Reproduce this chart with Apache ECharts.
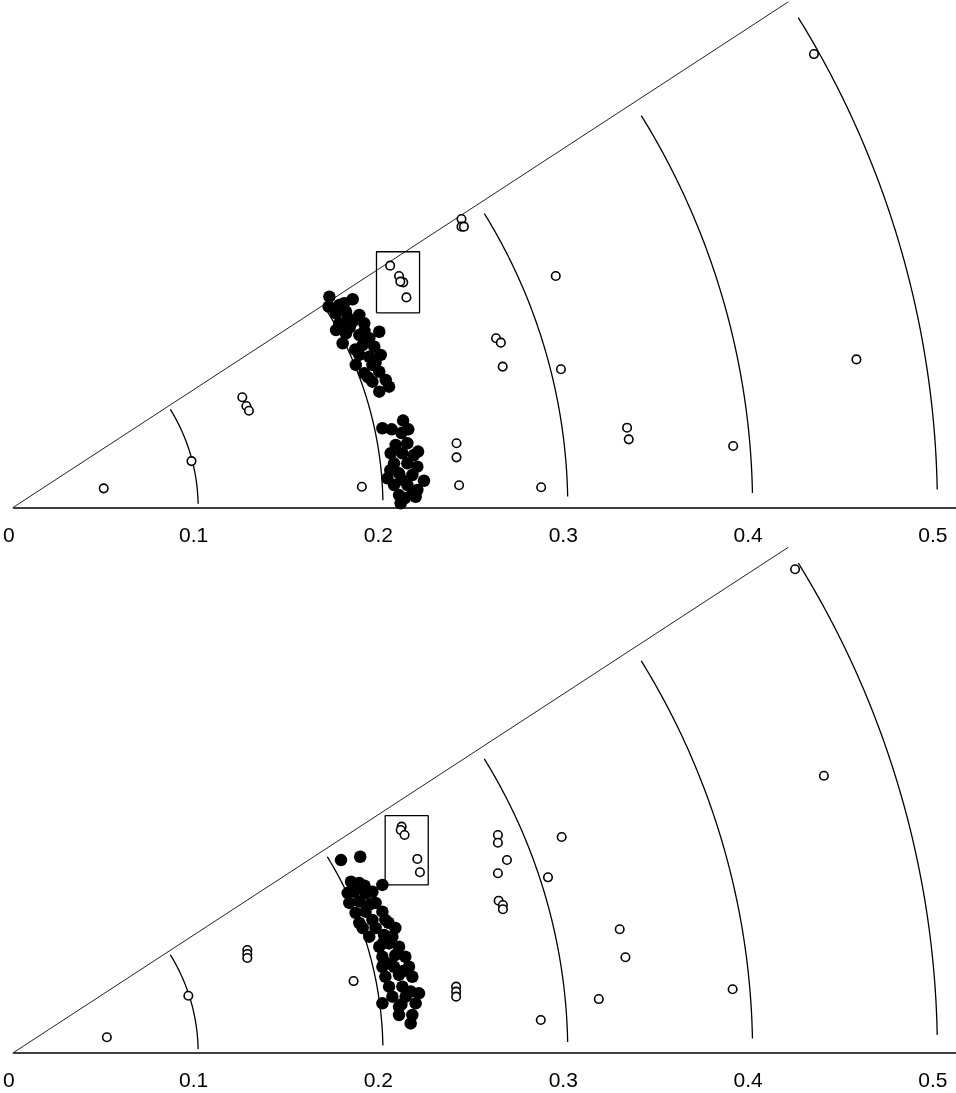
<!DOCTYPE html>
<html>
<head>
<meta charset="utf-8">
<script src="https://cdn.jsdelivr.net/npm/echarts@6/dist/echarts.min.js"></script>
<style>
  html, body { margin: 0; padding: 0; background: #fff; }
  #chart { width: 956px; height: 1093px; }
</style>
</head>
<body>
<div id="chart"></div>
<script>
// ---------- data ----------
const xTickLabels = ['0', '0.1', '0.2', '0.3', '0.4', '0.5'];
const stdArcs = [0.1, 0.2, 0.3, 0.4, 0.5];
const boundaryRadius = 0.5;
const boundaryAngleDeg = 33.0;   // outer ray of the diagram
const arcAngleStartDeg = 1.1;    // arcs start just above the x axis
const arcAngleEndDeg = 32.0;     // arcs stop just below the outer ray

// top panel: open markers [x, y]
const topOpen = [
  [0.0489, 0.0102], [0.0964, 0.0249], [0.1239, 0.0593], [0.1261, 0.0546], [0.1275, 0.0520],
  [0.1886, 0.0111], [0.2398, 0.0345], [0.2398, 0.0269], [0.2412, 0.0119],
  [0.2425, 0.1553], [0.2425, 0.1512], [0.2438, 0.1512],
  [0.2935, 0.1246], [0.2612, 0.0911], [0.2638, 0.0887], [0.2648, 0.0758], [0.2963, 0.0744],
  [0.2856, 0.0108], [0.3321, 0.0429], [0.3330, 0.0366], [0.3895, 0.0330], [0.4562, 0.0797],
  [0.4332, 0.2442],
  [0.2039, 0.1302], [0.2087, 0.1246], [0.2110, 0.1212], [0.2094, 0.1216], [0.2127, 0.1131]
];
// top panel: filled markers [x, y]
const topFilled = [
  [0.1710, 0.1135], [0.1706, 0.1081], [0.1836, 0.1121], [0.1764, 0.1090], [0.1746, 0.1045],
  [0.1800, 0.1054], [0.1872, 0.1036], [0.1764, 0.0991], [0.1836, 0.1000], [0.1899, 0.0991],
  [0.1980, 0.0946], [0.1746, 0.0955], [0.1800, 0.0938], [0.1872, 0.0928], [0.1926, 0.0911],
  [0.1782, 0.0884], [0.1890, 0.0874], [0.1953, 0.0865], [0.1872, 0.0821], [0.1926, 0.0811],
  [0.1988, 0.0821], [0.1853, 0.0767], [0.1943, 0.0767], [0.1899, 0.0722], [0.1980, 0.0731],
  [0.1943, 0.0677], [0.2015, 0.0686], [0.1980, 0.0623], [0.2033, 0.0650],
  [0.1790, 0.1100], [0.1820, 0.0970], [0.1900, 0.0950], [0.1850, 0.0850], [0.1960, 0.0780],
  [0.1920, 0.0700], [0.1810, 0.1020],
  [0.1997, 0.0426], [0.2047, 0.0420], [0.2109, 0.0467], [0.2137, 0.0420], [0.2069, 0.0336],
  [0.2132, 0.0345], [0.2042, 0.0291], [0.2105, 0.0291], [0.2168, 0.0282], [0.2060, 0.0237],
  [0.2132, 0.0237], [0.2186, 0.0219], [0.2024, 0.0156], [0.2087, 0.0183], [0.2159, 0.0174],
  [0.2222, 0.0143], [0.2060, 0.0120], [0.2132, 0.0120], [0.2186, 0.0093], [0.2087, 0.0066],
  [0.2159, 0.0075], [0.2096, 0.0022], [0.2177, 0.0057],
  [0.2100, 0.0400], [0.2190, 0.0300], [0.2040, 0.0200], [0.2120, 0.0050], [0.2100, 0.0150]
];
// top panel: box [xMin, yMin, xMax, yMax]
const topBox = [0.1965, 0.1048, 0.2198, 0.1377];

// bottom panel: open markers [x, y]
const bottomOpen = [
  [0.0506, 0.0083], [0.0947, 0.0307], [0.1266, 0.0553], [0.1266, 0.0532], [0.1266, 0.0510],
  [0.1841, 0.0386], [0.2396, 0.0356], [0.2396, 0.0329], [0.2396, 0.0302], [0.2854, 0.0176],
  [0.3168, 0.0289], [0.3281, 0.0665], [0.3312, 0.0514], [0.3892, 0.0342], [0.4386, 0.1492],
  [0.4230, 0.2605], [0.2967, 0.1162], [0.2893, 0.0945],
  [0.2622, 0.1173], [0.2622, 0.1131], [0.2671, 0.1038], [0.2622, 0.0967],
  [0.2626, 0.0819], [0.2649, 0.0796], [0.2649, 0.0773],
  [0.2101, 0.1218], [0.2096, 0.1200], [0.2117, 0.1173], [0.2186, 0.1044], [0.2200, 0.0972]
];
// bottom panel: filled markers [x, y]
const bottomFilled = [
  [0.1773, 0.1038], [0.1877, 0.1056], [0.1997, 0.0904],
  [0.1827, 0.0921], [0.1872, 0.0914], [0.1809, 0.0860], [0.1845, 0.0867], [0.1907, 0.0859],
  [0.1943, 0.0867], [0.1818, 0.0807], [0.1872, 0.0814], [0.1960, 0.0807], [0.1852, 0.0753],
  [0.1906, 0.0760], [0.1997, 0.0760], [0.1872, 0.0699], [0.1943, 0.0715], [0.2013, 0.0715],
  [0.1890, 0.0672], [0.1960, 0.0672], [0.2067, 0.0672], [0.1926, 0.0625], [0.2006, 0.0634],
  [0.2051, 0.0625], [0.1980, 0.0571], [0.2033, 0.0589], [0.2087, 0.0571], [0.1997, 0.0517],
  [0.2067, 0.0526], [0.2121, 0.0517], [0.1997, 0.0463], [0.2060, 0.0463], [0.2141, 0.0463],
  [0.2013, 0.0409], [0.2087, 0.0419], [0.2159, 0.0409], [0.2033, 0.0356], [0.2105, 0.0356],
  [0.2195, 0.0320], [0.2051, 0.0302], [0.2123, 0.0302], [0.2177, 0.0266], [0.1997, 0.0266],
  [0.2087, 0.0248], [0.2087, 0.0203], [0.2159, 0.0203], [0.2150, 0.0158],
  [0.1930, 0.0800], [0.2000, 0.0590], [0.2040, 0.0480], [0.2110, 0.0440], [0.2150, 0.0330],
  [0.2100, 0.0260], [0.2030, 0.0700], [0.1900, 0.0900]
];
// bottom panel: box [xMin, yMin, xMax, yMax]
const bottomBox = [0.2012, 0.0904, 0.2245, 0.1277];

// ---------- geometry helpers (gridlines only) ----------
const D2R = Math.PI / 180;
function arcPoints(r) {
  const pts = [];
  for (let a = arcAngleStartDeg; a <= arcAngleEndDeg + 1e-9; a += 0.25) {
    pts.push([r * Math.cos(a * D2R), r * Math.sin(a * D2R)]);
  }
  return pts;
}
function boxPoints(b) {
  return [[b[0], b[1]], [b[2], b[1]], [b[2], b[3]], [b[0], b[3]], [b[0], b[1]]];
}
const rayPoints = [[0, 0], [boundaryRadius * Math.cos(boundaryAngleDeg * D2R), boundaryRadius * Math.sin(boundaryAngleDeg * D2R)]];

// ---------- layout ----------
const PX_PER_UNIT = 1856;
const AXIS_LEFT = 9.3;
const PANEL_H = 507.3;
const xMax = (956 - AXIS_LEFT) / PX_PER_UNIT;
const yMax = PANEL_H / PX_PER_UNIT;

function labelFmt(v) {
  const k = Math.round(v * 10);
  if (Math.abs(v * 10 - k) > 1e-6 || k < 0 || k >= xTickLabels.length) return '';
  return xTickLabels[k];
}

const grids = [
  { left: AXIS_LEFT, top: 0, width: 956 - AXIS_LEFT, height: PANEL_H },
  { left: AXIS_LEFT, top: 1052.7 - PANEL_H, width: 956 - AXIS_LEFT, height: PANEL_H }
];
const xAxes = [0, 1].map(i => ({
  type: 'value', gridIndex: i, min: 0, max: xMax, interval: 0.1,
  axisLine: { show: true, onZero: false, lineStyle: { color: '#000', width: 1.5 } },
  axisTick: { show: false },
  splitLine: { show: false },
  axisLabel: {
    formatter: labelFmt, color: '#000', fontSize: 21,
    fontFamily: 'Liberation Sans, Arial, sans-serif',
    margin: 18, padding: [0, 9, 0, 0], showMaxLabel: false
  }
}));
const yAxes = [0, 1].map(i => ({
  type: 'value', gridIndex: i, min: 0, max: yMax, show: false,
  splitLine: { show: false }
}));

const series = [];
function addPanel(i, openPts, filledPts, box) {
  stdArcs.forEach(r => {
    series.push({
      type: 'line', xAxisIndex: i, yAxisIndex: i, data: arcPoints(r),
      showSymbol: false, silent: true, clip: false, z: 1,
      lineStyle: { color: '#000', width: 1.3 }
    });
  });
  series.push({
    type: 'line', xAxisIndex: i, yAxisIndex: i, data: rayPoints,
    showSymbol: false, silent: true, clip: false, z: 1,
    lineStyle: { color: '#222', width: 1 }
  });
  series.push({
    type: 'line', xAxisIndex: i, yAxisIndex: i, data: boxPoints(box),
    showSymbol: false, silent: true, z: 1,
    lineStyle: { color: '#000', width: 1.3 }
  });
  series.push({
    type: 'scatter', xAxisIndex: i, yAxisIndex: i, data: filledPts,
    symbol: 'circle', symbolSize: 12.5, z: 3,
    itemStyle: { color: '#000', opacity: 1 }
  });
  series.push({
    type: 'scatter', xAxisIndex: i, yAxisIndex: i, data: openPts,
    symbol: 'circle', symbolSize: 8.5, z: 4,
    itemStyle: { color: '#fff', borderColor: '#000', borderWidth: 1.6, opacity: 1 }
  });
}
addPanel(0, topOpen, topFilled, topBox);
addPanel(1, bottomOpen, bottomFilled, bottomBox);

const chart = echarts.init(document.getElementById('chart'), null, { renderer: 'canvas' });
chart.setOption({
  animation: false,
  backgroundColor: '#fff',
  grid: grids,
  xAxis: xAxes,
  yAxis: yAxes,
  series: series
});
</script>
</body>
</html>
